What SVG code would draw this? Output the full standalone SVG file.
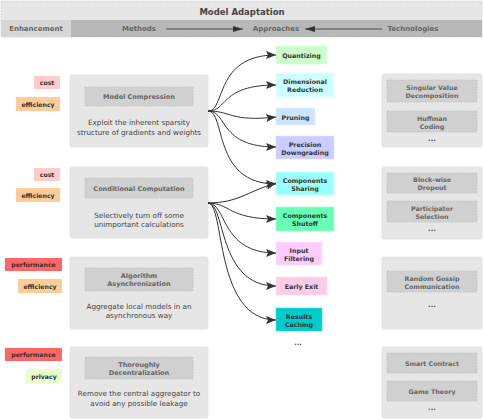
<svg xmlns="http://www.w3.org/2000/svg" width="484" height="420" viewBox="0 0 484 420">
<defs>
<marker id="arr" markerUnits="userSpaceOnUse" markerWidth="10" markerHeight="8" refX="10" refY="4" orient="auto">
<path d="M0,0 L10,4 L0,8 L2,4 z" fill="#333"/>
</marker>
<marker id="harr" markerUnits="userSpaceOnUse" markerWidth="10" markerHeight="6" refX="10" refY="3" orient="auto">
<path d="M0,0 L10,3 L0,6 z" fill="#333"/>
</marker>
<style>
text{font-family:"DejaVu Sans","Liberation Sans",sans-serif;text-anchor:middle;dominant-baseline:central}
.hd{font-size:7px;font-weight:bold;fill:#666}
.ttl{font-size:8.5px;font-weight:bold;fill:#444}
.tag{font-size:6.2px;font-weight:bold;fill:#333}
.it{font-size:6.5px;font-weight:bold;fill:#666}
.ds{font-size:7.2px;fill:#444}
.ap{font-size:6.3px;font-weight:bold;fill:#333}
.tc{font-size:6.3px;font-weight:bold;fill:#666}
.outer{fill:#e6e6e6;stroke:#e0e0e0;stroke-width:0.8}
.inner{fill:#d0d0d0;stroke:#c4c4c4;stroke-width:0.8;stroke-dasharray:2 1}
.edge{fill:none;stroke:#333;stroke-width:1}
.dots{font-size:7px;font-weight:bold;fill:#555}
</style>
</defs>
<rect width="484" height="420" fill="#fff"/>

<g id="header">
<rect x="1" y="1" width="481" height="36" fill="#e6e6e6" stroke="#d0d0d0" stroke-width="0.8" stroke-dasharray="2 1"/>
<text class="ttl" x="242" y="12">Model Adaptation</text>
<rect x="1" y="20" width="70" height="17" fill="#d6d6d6"/>
<rect x="71" y="20" width="411" height="17" fill="#b8b8b8"/>
<text class="hd" x="36" y="29">Enhancement</text>
<text class="hd" x="139" y="29">Methods</text>
<text class="hd" x="276" y="29">Approaches</text>
<text class="hd" x="413" y="29">Technologies</text>
<line x1="166" y1="29" x2="243" y2="29" stroke="#333" stroke-width="0.8" marker-end="url(#harr)"/>
<line x1="382" y1="29" x2="305" y2="29" stroke="#333" stroke-width="0.8" marker-end="url(#harr)"/>
</g>

<g id="tags">
<g id="tag-cost-1"><rect x="34" y="76" width="26" height="13" fill="#ffcccc"/><text class="tag" x="47" y="82.5">cost</text></g>
<g id="tag-eff-1"><rect x="16" y="97" width="44" height="14" fill="#ffcc99"/><text class="tag" x="38" y="104">efficiency</text></g>
<g id="tag-cost-2"><rect x="34" y="168" width="26" height="13" fill="#ffcccc"/><text class="tag" x="47" y="174.5">cost</text></g>
<g id="tag-eff-2"><rect x="16" y="188" width="44" height="14" fill="#ffcc99"/><text class="tag" x="38" y="195">efficiency</text></g>
<g id="tag-perf-3"><rect x="5" y="258" width="57" height="13" fill="#ff6666"/><text class="tag" x="33.5" y="264.5">performance</text></g>
<g id="tag-eff-3"><rect x="18" y="279" width="44" height="14" fill="#ffcc99"/><text class="tag" x="40" y="286">efficiency</text></g>
<g id="tag-perf-4"><rect x="5" y="348" width="57" height="13" fill="#ff6666"/><text class="tag" x="33.5" y="354.5">performance</text></g>
<g id="tag-priv-4"><rect x="26" y="369" width="36" height="14" fill="#e6ffcc"/><text class="tag" x="44" y="376">privacy</text></g>
</g>

<g id="method-model-compression">
<rect class="outer" x="70" y="75" width="138" height="72" rx="2"/>
<rect class="inner" x="85" y="87" width="108" height="19"/>
<text class="it" x="139" y="97">Model Compression</text>
<text class="ds" x="139" y="122">Exploit the inherent sparsity</text>
<text class="ds" x="139" y="132">structure of gradients and weights</text>
</g>
<g id="method-conditional-computation">
<rect class="outer" x="70" y="167" width="138" height="71" rx="2"/>
<rect class="inner" x="85" y="178" width="108" height="20"/>
<text class="it" x="139" y="188.5">Conditional Computation</text>
<text class="ds" x="139" y="215">Selectively turn off some</text>
<text class="ds" x="139" y="224.5">unimportant calculations</text>
</g>
<g id="method-algorithm-async">
<rect class="outer" x="70" y="257" width="138" height="72" rx="2"/>
<rect class="inner" x="85" y="268" width="108" height="23"/>
<text class="it" x="139" y="276">Algorithm</text>
<text class="it" x="139" y="284">Asynchronization</text>
<text class="ds" x="139" y="306">Aggregate local models in an</text>
<text class="ds" x="139" y="315.5">asynchronous way</text>
</g>
<g id="method-decentralization">
<rect class="outer" x="70" y="347" width="138" height="71" rx="2"/>
<rect class="inner" x="85" y="357" width="108" height="22"/>
<text class="it" x="139" y="365">Thoroughly</text>
<text class="it" x="139" y="373">Decentralization</text>
<text class="ds" x="139" y="393">Remove the central aggregator to</text>
<text class="ds" x="139" y="403">avoid any possible leakage</text>
</g>

<g id="approach-quantizing"><rect x="276" y="46" width="51" height="18" fill="#ccffcc" stroke="#e0ffe0" stroke-width="0.6"/><text class="ap" x="301.5" y="55">Quantizing</text></g>
<g id="approach-dimensional"><rect x="276" y="73" width="58" height="24" fill="#ccffff" stroke="#e0ffff" stroke-width="0.6"/><text class="ap" x="305" y="81.5">Dimensional</text><text class="ap" x="305" y="89.5">Reduction</text></g>
<g id="approach-pruning"><rect x="276" y="108" width="39" height="17" fill="#cce5ff" stroke="#e0efff" stroke-width="0.6"/><text class="ap" x="295.5" y="117">Pruning</text></g>
<g id="approach-precision"><rect x="276" y="136" width="58" height="23" fill="#ccccff" stroke="#e0e0ff" stroke-width="0.6"/><text class="ap" x="305" y="144">Precision</text><text class="ap" x="305" y="152">Downgrading</text></g>
<g id="approach-sharing"><rect x="276" y="172" width="58" height="23" fill="#99ffff" stroke="#ccffff" stroke-width="0.6"/><text class="ap" x="305" y="180">Components</text><text class="ap" x="305" y="188">Sharing</text></g>
<g id="approach-shutoff"><rect x="276" y="207" width="58" height="24" fill="#66ffb3" stroke="#aaffd5" stroke-width="0.6"/><text class="ap" x="305" y="215">Components</text><text class="ap" x="305" y="223">Shutoff</text></g>
<g id="approach-input"><rect x="276" y="242" width="46" height="23" fill="#ffccff" stroke="#ffe0ff" stroke-width="0.6"/><text class="ap" x="299" y="250">Input</text><text class="ap" x="299" y="258">Filtering</text></g>
<g id="approach-early-exit"><rect x="276" y="277" width="51" height="18" fill="#ffcce6" stroke="#ffe0f0" stroke-width="0.6"/><text class="ap" x="301.5" y="286.5">Early Exit</text></g>
<g id="approach-results"><rect x="276" y="308" width="46" height="23" fill="#00cccc" stroke="#33e0e0" stroke-width="0.6"/><text class="ap" x="299" y="316">Results</text><text class="ap" x="299" y="324">Caching</text></g>
<text class="dots" x="298" y="343">...</text>

<g id="tech-1">
<rect class="outer" x="382" y="74" width="100" height="73" rx="2"/>
<rect class="inner" x="387" y="80" width="90" height="22"/>
<text class="tc" x="432" y="87.5">Singular Value</text>
<text class="tc" x="432" y="95">Decomposition</text>
<rect class="inner" x="387" y="111" width="90" height="21"/>
<text class="tc" x="432" y="118">Huffman</text>
<text class="tc" x="432" y="126">Coding</text>
<text class="dots" x="432" y="139">...</text>
</g>
<g id="tech-2">
<rect class="outer" x="382" y="167" width="100" height="72" rx="2"/>
<rect class="inner" x="387" y="173" width="90" height="20"/>
<text class="tc" x="432" y="179.5">Block-wise</text>
<text class="tc" x="432" y="187">Dropout</text>
<rect class="inner" x="387" y="201" width="90" height="21"/>
<text class="tc" x="432" y="208">Participator</text>
<text class="tc" x="432" y="216">Selection</text>
<text class="dots" x="432" y="229">...</text>
</g>
<g id="tech-3">
<rect class="outer" x="382" y="257" width="100" height="72" rx="2"/>
<rect class="inner" x="387" y="271" width="90" height="21"/>
<text class="tc" x="432" y="278">Random Gossip</text>
<text class="tc" x="432" y="286">Communication</text>
<text class="dots" x="432" y="305">...</text>
</g>
<g id="tech-4">
<rect class="outer" x="382" y="347" width="100" height="71" rx="2"/>
<rect class="inner" x="387" y="353" width="90" height="20"/>
<text class="tc" x="432" y="363">Smart Contract</text>
<rect class="inner" x="387" y="381" width="90" height="20"/>
<text class="tc" x="432" y="391">Game Theory</text>
<text class="dots" x="432" y="408">...</text>
</g>

<g id="connectors">
<path class="edge" marker-end="url(#arr)" d="M208,111 C226,111 214,55 276,55"/>
<path class="edge" marker-end="url(#arr)" d="M208,111 C228,111 220,85 276,85"/>
<path class="edge" marker-end="url(#arr)" d="M208,111 C232,111 230,122 276,117"/>
<path class="edge" marker-end="url(#arr)" d="M208,111 C228,111 218,147 276,147"/>
<path class="edge" marker-end="url(#arr)" d="M208,111 C226,111 212,184 276,184"/>
<path class="edge" marker-end="url(#arr)" d="M208,203 C238,203 246,192 276,183"/>
<path class="edge" marker-end="url(#arr)" d="M208,203 C230,203 228,219 276,219"/>
<path class="edge" marker-end="url(#arr)" d="M208,203 C227,203 220,253 276,253"/>
<path class="edge" marker-end="url(#arr)" d="M208,203 C226,203 217,286 276,286"/>
<path class="edge" marker-end="url(#arr)" d="M208,203 C225,203 214,320 276,320"/>
</g>
</svg>
